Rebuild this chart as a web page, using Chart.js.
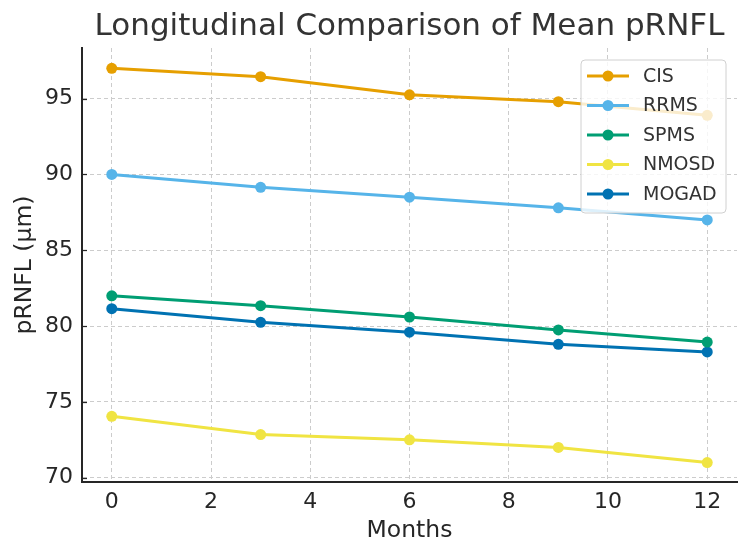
<!DOCTYPE html>
<html>
<head>
<meta charset="utf-8">
<title>Longitudinal Comparison of Mean pRNFL</title>
<script src="https://cdn.jsdelivr.net/npm/chart.js"></script>
<style>
    body { margin: 0; background: #ffffff; }
    #wrap { width: 750px; height: 558px; }
</style>
</head>
<body>
<div id="wrap"><canvas id="myChart" width="750" height="558"></canvas></div>
<script>
const months = [0, 3, 6, 9, 12];
const cis = [97.0, 96.45, 95.25, 94.8, 93.9];
const rrms = [90.0, 89.15, 88.5, 87.8, 87.0];
const spms = [82.0, 81.35, 80.6, 79.75, 78.95];
const nmosd = [74.05, 72.85, 72.5, 72.0, 71.0];
const mogad = [81.15, 80.25, 79.6, 78.8, 78.3];
const xTicks = [0, 2, 4, 6, 8, 10, 12];
const yTicks = [70, 75, 80, 85, 90, 95];

const font = 'DejaVu Sans';
const ctx = document.getElementById('myChart').getContext('2d');

function points(values) {
    return months.map((m, i) => ({ x: m, y: values[i] }));
}

function series(label, values, color) {
    return {
        label: label,
        data: points(values),
        borderColor: color,
        backgroundColor: color,
        pointBackgroundColor: color,
        pointBorderWidth: 0,
        pointRadius: 5.5,
        borderWidth: 3,
        tension: 0
    };
}

// title, inward tick marks and the legend box are drawn by hand
const extras = {
    id: 'extras',
    afterDraw(chart) {
        const c = chart.ctx;
        const area = chart.chartArea;
        const yScale = chart.scales.y;
        c.save();

        // small inward ticks on the y axis
        c.strokeStyle = '#262626';
        c.lineWidth = 1.25;
        yTicks.forEach(v => {
            const py = Math.round(yScale.getPixelForValue(v)) + 0.5;
            c.beginPath();
            c.moveTo(area.left, py);
            c.lineTo(area.left + 5, py);
            c.stroke();
        });

        c.fillStyle = '#333333';
        c.font = '31px "' + font + '"';
        c.textAlign = 'center';
        c.textBaseline = 'middle';
        c.fillText('Longitudinal Comparison of Mean pRNFL', (area.left + area.right) / 2, 27);

        const sets = chart.data.datasets;
        const w = 145, rowH = 29.5;
        const h = 153;
        const bx = area.right - 11 - w;
        const by = area.top + 12;
        c.beginPath();
        c.roundRect(bx, by, w, h, 4);
        c.fillStyle = 'rgba(255,255,255,0.8)';
        c.fill();
        c.lineWidth = 1;
        c.strokeStyle = '#d0d0d0';
        c.stroke();

        c.font = '19px "' + font + '"';
        c.textAlign = 'left';
        sets.forEach((ds, i) => {
            const y = by + 16 + i * rowH;
            c.strokeStyle = ds.borderColor;
            c.lineWidth = 3;
            c.beginPath();
            c.moveTo(bx + 6, y);
            c.lineTo(bx + 48, y);
            c.stroke();
            c.fillStyle = ds.borderColor;
            c.beginPath();
            c.arc(bx + 27, y, 5.5, 0, Math.PI * 2);
            c.fill();
            c.fillStyle = '#333333';
            c.fillText(ds.label, bx + 62, y + 1);
        });
        c.restore();
    }
};

const myChart = new Chart(ctx, {
    type: 'line',
    data: {
        datasets: [
            series('CIS', cis, '#E69F00'),
            series('RRMS', rrms, '#56B4E9'),
            series('SPMS', spms, '#009E73'),
            series('NMOSD', nmosd, '#F0E442'),
            series('MOGAD', mogad, '#0072B2')
        ]
    },
    options: {
        responsive: false,
        animation: false,
        layout: { padding: { top: 48, right: 13, left: 0, bottom: 0 } },
        plugins: {
            legend: { display: false },
            title: { display: false },
            tooltip: { enabled: false }
        },
        scales: {
            x: {
                type: 'linear',
                min: -0.6,
                max: 12.6,
                afterFit(scale) { scale.height = 76; },
                afterBuildTicks(scale) { scale.ticks = xTicks.map(v => ({ value: v })); },
                ticks: {
                    stepSize: 2,
                    includeBounds: false,
                    padding: 7,
                    color: '#262626',
                    font: { family: font, size: 22 }
                },
                grid: { color: '#cccccc', lineWidth: 1, drawTicks: false },
                border: { display: true, color: '#262626', width: 2, dash: [4, 3] },
                title: {
                    display: true,
                    text: 'Months',
                    color: '#262626',
                    font: { family: font, size: 23.5 },
                    padding: { top: 0, bottom: 13.5 }
                }
            },
            y: {
                min: 69.72,
                max: 98.34,
                afterFit(scale) { scale.width = 82; },
                afterBuildTicks(scale) { scale.ticks = yTicks.map(v => ({ value: v })); },
                ticks: {
                    stepSize: 5,
                    includeBounds: false,
                    padding: 9,
                    color: '#262626',
                    font: { family: font, size: 22 }
                },
                grid: { color: '#cccccc', lineWidth: 1, drawTicks: false },
                border: { display: true, color: '#262626', width: 2, dash: [4, 3] },
                title: {
                    display: true,
                    text: 'pRNFL (µm)',
                    color: '#262626',
                    font: { family: font, size: 23.5 },
                    padding: { top: 11, bottom: 0 }
                }
            }
        }
    },
    plugins: [extras]
});
</script>
</body>
</html>
